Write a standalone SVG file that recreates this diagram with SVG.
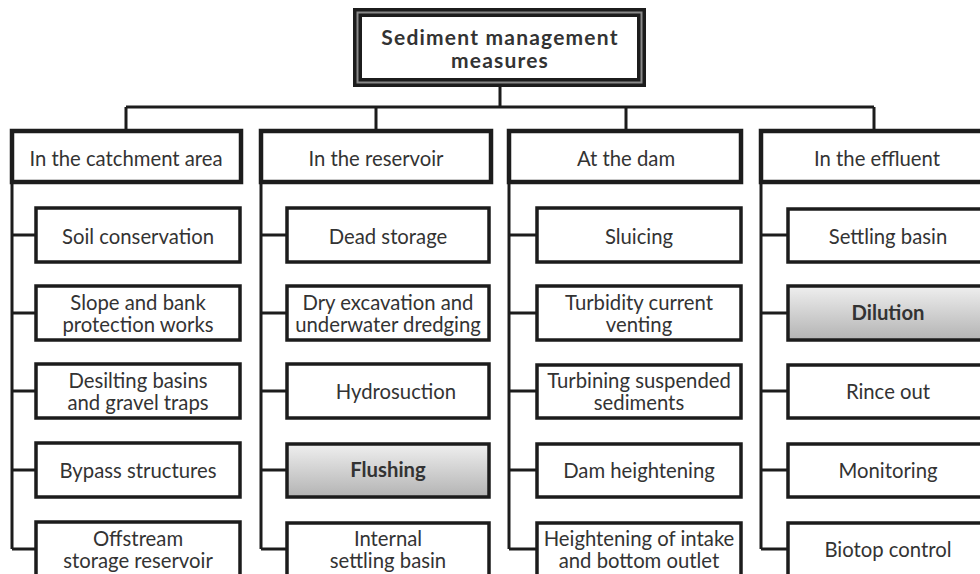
<svg xmlns="http://www.w3.org/2000/svg" width="980" height="574" viewBox="0 0 980 574">
<defs>
<linearGradient id="g" x1="0" y1="0" x2="0" y2="1">
<stop offset="0" stop-color="#efefef"/>
<stop offset="1" stop-color="#b3b3b3"/>
</linearGradient>
<style>
.cat{fill:#fff;stroke:#1c1c1c;stroke-width:4.5}
.box{fill:#fff;stroke:#1c1c1c;stroke-width:3.5}
.hl{fill:url(#g);stroke:#1c1c1c;stroke-width:3.5}
.ln{fill:none;stroke:#1c1c1c;stroke-width:3}
text{font-family:Lato,"Liberation Sans",sans-serif;font-size:20.3px;fill:#333;text-anchor:middle}
.b{font-weight:bold}
.t{font-size:21px;letter-spacing:1.2px}
</style>
</defs>
<rect width="980" height="574" fill="#fff"/>
<g id="connectors">
<path class="ln" d="M500 87V107M126 107H874M126 107V131M376 107V131M626 107V131M874 107V131"/>
<path class="ln" d="M12 182V549M12 235H36M12 313H36M12 391H36M12 470H36M12 549H36"/>
<path class="ln" d="M261 182V549M261 235H287M261 313H287M261 391H287M261 470H287M261 549H287"/>
<path class="ln" d="M509 182V549M509 235H537M509 313H537M509 391H537M509 470H537M509 549H537"/>
<path class="ln" d="M761 182V549M761 235H788M761 313H788M761 391H788M761 470H788M761 549H788"/>
</g>
<g id="root">
<rect x="357.5" y="12.5" width="284" height="70" fill="#fff" stroke="#1c1c1c" stroke-width="9"/>
<rect x="357.5" y="12.5" width="284" height="70" fill="none" stroke="#8a8a8a" stroke-width="2"/>
<text class="b t" x="500" y="45">Sediment management</text>
<text class="b t" x="500" y="68">measures</text>
</g>
<g id="cat1"><rect class="cat" x="12" y="131" width="229" height="51"/><text x="126" y="166">In the catchment area</text></g>
<g id="cat2"><rect class="cat" x="261" y="131" width="230" height="51"/><text x="376" y="166">In the reservoir</text></g>
<g id="cat3"><rect class="cat" x="509" y="131" width="232" height="51"/><text x="626" y="166">At  the dam</text></g>
<g id="cat4"><rect class="cat" x="761" y="131" width="234" height="51"/><text x="877" y="166">In the effluent</text></g>

<g id="c1a"><rect class="box" x="36" y="208" width="204" height="54"/><text x="138" y="244">Soil conservation</text></g>
<g id="c1b"><rect class="box" x="36" y="286" width="204" height="54"/><text x="138" y="310">Slope and bank</text><text x="138" y="332">protection works</text></g>
<g id="c1c"><rect class="box" x="36" y="364" width="204" height="54"/><text x="138" y="388">Desilting basins</text><text x="138" y="410">and gravel traps</text></g>
<g id="c1d"><rect class="box" x="36" y="443" width="204" height="54"/><text x="138" y="478">Bypass structures</text></g>
<g id="c1e"><rect class="box" x="36" y="522" width="204" height="56"/><text x="138" y="546">Offstream</text><text x="138" y="568">storage reservoir</text></g>

<g id="c2a"><rect class="box" x="287" y="208" width="202" height="54"/><text x="388" y="244">Dead storage</text></g>
<g id="c2b"><rect class="box" x="287" y="286" width="202" height="54"/><text x="388" y="310">Dry excavation and</text><text x="388" y="332">underwater dredging</text></g>
<g id="c2c"><rect class="box" x="287" y="364" width="202" height="54"/><text x="396" y="399">Hydrosuction</text></g>
<g id="c2d"><rect class="hl" x="287" y="444" width="202" height="53"/><text class="b" x="388" y="477">Flushing</text></g>
<g id="c2e"><rect class="box" x="287" y="523" width="202" height="56"/><text x="388" y="546">Internal</text><text x="388" y="568">settling basin</text></g>

<g id="c3a"><rect class="box" x="537" y="208" width="204" height="54"/><text x="639" y="244">Sluicing</text></g>
<g id="c3b"><rect class="box" x="537" y="286" width="204" height="54"/><text x="639" y="310">Turbidity current</text><text x="639" y="332">venting</text></g>
<g id="c3c"><rect class="box" x="537" y="365" width="204" height="53"/><text x="639" y="388">Turbining suspended</text><text x="639" y="410">sediments</text></g>
<g id="c3d"><rect class="box" x="537" y="444" width="204" height="53"/><text x="639" y="478">Dam heightening</text></g>
<g id="c3e"><rect class="box" x="537" y="523" width="204" height="56"/><text x="639" y="546">Heightening of intake</text><text x="639" y="568">and bottom outlet</text></g>

<g id="c4a"><rect class="box" x="788" y="209" width="204" height="53"/><text x="888" y="244">Settling basin</text></g>
<g id="c4b"><rect class="hl" x="788" y="286" width="204" height="54"/><text class="b" x="888" y="320">Dilution</text></g>
<g id="c4c"><rect class="box" x="788" y="365" width="204" height="53"/><text x="888" y="399">Rince out</text></g>
<g id="c4d"><rect class="box" x="788" y="444" width="204" height="53"/><text x="888" y="478">Monitoring</text></g>
<g id="c4e"><rect class="box" x="788" y="523" width="204" height="56"/><text x="888" y="557">Biotop control</text></g>
</svg>
